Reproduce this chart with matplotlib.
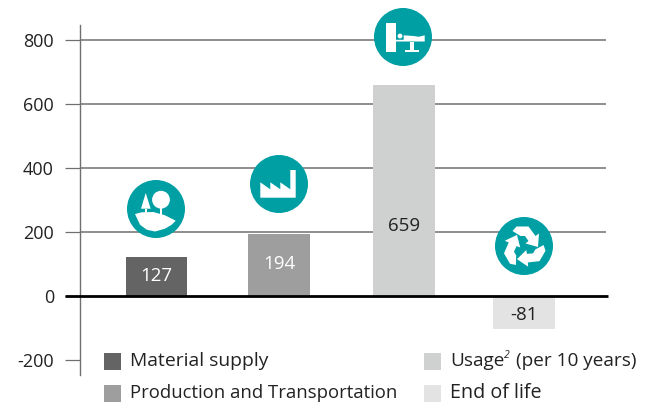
"""
Life cycle chart with four bars, round icons and a two column legend.
"""
import matplotlib
import matplotlib.pyplot as plt
from matplotlib.patches import Circle, Polygon, Rectangle

matplotlib.use("Agg")
plt.rcParams["font.family"] = ["Open Sans", "DejaVu Sans"]

# data
stages = ["Material supply", "Production and Transportation", "Usage", "End of life"]
bar_positions = [0, 1, 2.02, 3]
bar_heights = [122, 194, 659, -103]
bar_labels = ["127", "194", "659", "-81"]
label_heights = [61, 100, 219, -59]
y_ticks = [-200, 0, 200, 400, 600, 800]
y_tick_labels = ["-200", "0", "200", "400", "600", "800"]

bar_colors = ["#636463", "#9d9e9d", "#cfd1d0", "#e2e3e2"]
label_colors = ["white", "white", "#222222", "#222222"]
TEAL = "#009fa3"
GRID = "#707070"
TEXT = "#222222"

W, H = 650, 405


def to_fig(x0, y0, x1, y1):
    return [x0 / W, 1 - y1 / H, (x1 - x0) / W, (y1 - y0) / H]


fig = plt.figure(figsize=(W / 100, H / 100), dpi=100)
ax = fig.add_axes(to_fig(80, 25, 606, 375))
ax.set_xlim(-0.624, 3.67)
ax.set_ylim(-247, 847)

ax.bar(bar_positions, bar_heights, width=0.5, color=bar_colors, zorder=3)
for i, txt in enumerate(bar_labels):
    ax.text(bar_positions[i], label_heights[i], txt, color=label_colors[i], fontsize=13.5,
            ha="center", va="center", zorder=5)

for y in y_ticks:
    if y not in (0, -200):
        ax.axhline(y, color=GRID, linewidth=1.1, zorder=1)
ax.plot([-0.745, 3.685], [0, 0], color="black", linewidth=2.0,
        clip_on=False, zorder=4, solid_capstyle="butt")

ax.set_yticks(y_ticks)
ax.set_yticklabels(y_tick_labels, fontsize=13, color=TEXT)
ax.set_xticks([])
ax.tick_params(axis="y", length=10.8, width=0.9, color=GRID, pad=8)
for side in ["top", "right", "bottom"]:
    ax.spines[side].set_visible(False)
ax.spines["left"].set_color(GRID)
ax.spines["left"].set_linewidth(1.0)

# overlay in pixel coordinates for icons and legend
over = fig.add_axes([0, 0, 1, 1])
over.set_xlim(0, W)
over.set_ylim(H, 0)
over.axis("off")


def disc(cx, cy):
    over.add_patch(Circle((cx, cy), 29, color=TEAL, lw=0, zorder=6))


def white_poly(points):
    over.add_patch(Polygon(points, closed=True, color="white", lw=0, zorder=7))


def white_rect(x0, y0, x1, y1):
    over.add_patch(Rectangle((x0, y0), x1 - x0, y1 - y0, color="white", lw=0, zorder=7))


# nature icon
disc(156, 209)
white_poly([(145.7, 193), (141, 208.7), (150.7, 208.7)])
white_rect(144.8, 208.7, 146.6, 213)
over.add_patch(Circle((161, 199.7), 8.9, color="white", lw=0, zorder=7))
white_rect(160, 208, 162.3, 216)
white_poly([(135, 214), (141.7, 212.3), (153.3, 212), (165, 215.3), (175.7, 220.7),
            (171.7, 224.7), (165, 228.7), (155, 231.5), (146.7, 229.7), (140, 224.7)])

# factory icon
disc(279, 184)
white_poly([(260.3, 182.3), (270.3, 189.3), (270.3, 182.3), (280.3, 189.3), (280.3, 182.3),
            (290.3, 189.3), (290.3, 170), (295.7, 170), (295.7, 197.7), (260.3, 197.7)])

# bed icon
disc(403, 37)
white_rect(386.3, 22.5, 396, 52)
over.add_patch(Circle((400, 36), 2.4, color="white", lw=0, zorder=7))
white_poly([(403.7, 35.3), (413.7, 36), (418.7, 36.8), (424.7, 35.3), (424.7, 41.5),
            (396, 41.5), (396, 39.8), (403.7, 39.8)])
white_rect(410.3, 41.5, 413.7, 50)
white_rect(404.7, 49.5, 418.7, 51.5)

# recycling icon
disc(524, 246)
arm = [(-11.5, -16), (-7.5, -20.5), (4.5, -20.5), (11.5, -11), (15, -13.5), (14, 0), (1.5, -3.5),
       (4.5, -6), (1, -11), (-1.5, -11), (-3.5, -11)]
turns = [(1, 0, 0, 1), (-0.5, -0.866, 0.866, -0.5), (-0.5, 0.866, -0.866, -0.5)]
for a, b, c, d in turns:
    white_poly([(524 + a * x + b * y, 247 + c * x + d * y) for x, y in arm])

# legend
legend_pos = [(104, 361), (104, 393), (424, 361), (424, 393)]
legend_sizes = [13.9, 13.3, 13.7, 14.2]
for i, (x, y) in enumerate(legend_pos):
    over.add_patch(Rectangle((x, y - 8.5), 17, 17, color=bar_colors[i], lw=0))
    if i != 2:
        over.text(x + 26, y, stages[i], fontsize=legend_sizes[i], color=TEXT, va="center", ha="left")

over.text(450, 361, "Usage", fontsize=legend_sizes[2], color=TEXT, va="center", ha="left")
over.text(503.5, 355, "2", fontsize=7.5, style="italic", color=TEXT, va="center", ha="left")
over.text(515.5, 361, "(per 10 years)", fontsize=13.7, color=TEXT, va="center", ha="left")

fig.savefig("out.png", dpi=100)
plt.close(fig)
